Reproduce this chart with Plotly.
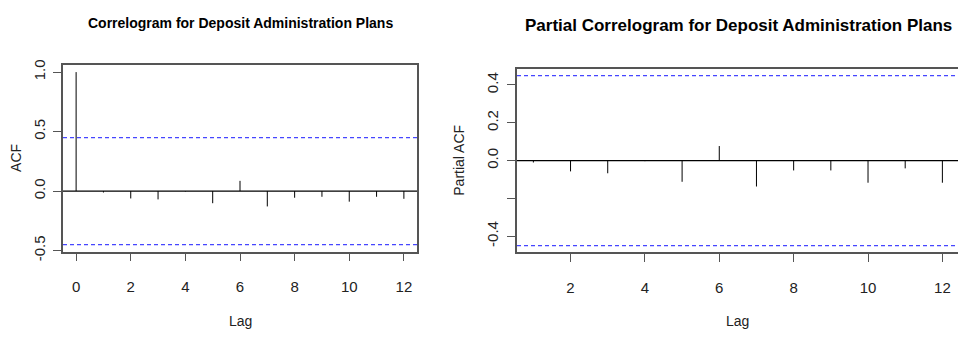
import plotly.graph_objects as go

# ---- data ----
acf_lags = list(range(0, 13))
acf_vals = [1.0, -0.012, -0.062, -0.07, -0.004, -0.102, 0.086, -0.129, -0.056, -0.048, -0.089, -0.048, -0.065]
pacf_lags = list(range(1, 13))
pacf_vals = [-0.01, -0.057, -0.067, -0.003, -0.112, 0.077, -0.137, -0.052, -0.052, -0.117, -0.041, -0.117]
conf_limit = 0.4497
title_left = "Correlogram for Deposit Administration Plans"
title_right = "Partial Correlogram for Deposit Administration Plans"
x_ticks_left = [0, 2, 4, 6, 8, 10, 12]
x_ticks_right = [2, 4, 6, 8, 10, 12]
y_ticks_left = [-0.5, 0.0, 0.5, 1.0]
y_ticktext_left = ["-0.5", "0.0", "0.5", "1.0"]
y_ticks_right = [-0.4, -0.2, 0.0, 0.2, 0.4]
y_ticktext_right = ["-0.4", "", "0.0", "0.2", "0.4"]

W, H = 958, 337


def spikes(lags, vals):
    xs, ys = [], []
    for l, v in zip(lags, vals):
        xs += [l, l, None]
        ys += [0, v, None]
    return xs, ys


fig = go.Figure()
xs, ys = spikes(acf_lags, acf_vals)
fig.add_trace(go.Scatter(x=xs, y=ys, mode="lines", line=dict(color="black", width=1),
                         xaxis="x", yaxis="y", showlegend=False, hoverinfo="skip"))
xs, ys = spikes(pacf_lags, pacf_vals)
fig.add_trace(go.Scatter(x=xs, y=ys, mode="lines", line=dict(color="black", width=1),
                         xaxis="x2", yaxis="y2", showlegend=False, hoverinfo="skip"))

# zero lines and confidence limits
shapes = []
for xref, yref in [("x domain", "y"), ("x2 domain", "y2")]:
    shapes.append(dict(type="line", xref=xref, yref=yref, x0=0, x1=1, y0=0, y1=0,
                       line=dict(color="black", width=1.3)))
    for s in (1, -1):
        shapes.append(dict(type="line", xref=xref, yref=yref, x0=0, x1=1,
                           y0=s * conf_limit, y1=s * conf_limit,
                           line=dict(color="rgb(70,70,255)", width=1.3, dash="4px,3px")))

FONT = "Liberation Sans, Arial, sans-serif"
axis_common = dict(showgrid=False, zeroline=False, showline=True, linecolor="#555",
                   linewidth=1.5, ticks="outside", ticklen=8, tickcolor="#555", tickwidth=1.3)
tick_font = dict(family=FONT, size=15, color="#222")

fig.update_layout(
    width=W, height=H, margin=dict(l=0, r=0, t=0, b=0),
    paper_bgcolor="white", plot_bgcolor="white",
    xaxis=dict(domain=[63 / W, 417 / W], range=[-0.48, 12.48], tickvals=x_ticks_left,
               mirror=True, anchor="y", ticklabelstandoff=13,
               tickfont=dict(family="Liberation Sans Narrow, Arial Narrow, " + FONT, size=15, color="#222"),
               **axis_common),
    yaxis=dict(domain=[1 - 258 / H, 1 - 63 / H], range=[-0.508, 1.058], tickvals=y_ticks_left,
               ticktext=y_ticktext_left, tickangle=-90, mirror=True, anchor="x",
               ticklabelstandoff=2, tickfont=tick_font, **axis_common),
    xaxis2=dict(domain=[517 / W, 1.0], range=[0.56, 12.42], tickvals=x_ticks_right,
                mirror=True, anchor="y2", ticklabelstandoff=13, tickfont=tick_font, **axis_common),
    yaxis2=dict(domain=[1 - 259 / H, 1 - 66.7 / H], range=[-0.4857, 0.4857], tickvals=y_ticks_right,
                ticktext=y_ticktext_right, tickangle=-90, anchor="x2", ticklabelstandoff=3,
                tickfont=tick_font, **axis_common),
    shapes=shapes,
    annotations=[
        dict(text="<b>" + title_left + "</b>", x=240 / W, y=1 - 19 / H, xref="paper", yref="paper",
             showarrow=False, xanchor="center", yanchor="middle",
             font=dict(family="Liberation Sans Narrow, Arial Narrow, " + FONT, size=14, color="black")),
        dict(text="<b>" + title_right + "</b>", x=738 / W, y=1 - 21 / H, xref="paper", yref="paper",
             showarrow=False, xanchor="center", yanchor="middle",
             font=dict(family=FONT, size=17, color="black")),
        dict(text="Lag", x=240 / W, y=1 - 331 / H, xref="paper", yref="paper", showarrow=False,
             xanchor="center", yanchor="middle", font=dict(family=FONT, size=14, color="#222")),
        dict(text="Lag", x=737 / W, y=1 - 331 / H, xref="paper", yref="paper", showarrow=False,
             xanchor="center", yanchor="middle", font=dict(family=FONT, size=14, color="#222")),
        dict(text="ACF", x=16 / W, y=1 - 160 / H, xref="paper", yref="paper", showarrow=False,
             textangle=-90, xanchor="center", yanchor="middle",
             font=dict(family=FONT, size=14, color="#222")),
        dict(text="Partial ACF", x=459 / W, y=1 - 163 / H, xref="paper", yref="paper", showarrow=False,
             textangle=-90, xanchor="center", yanchor="middle",
             font=dict(family=FONT, size=14, color="#222")),
    ],
)

fig.write_html("out.html", config={"displayModeBar": False},
               post_script="document.body.style.margin='0';")
